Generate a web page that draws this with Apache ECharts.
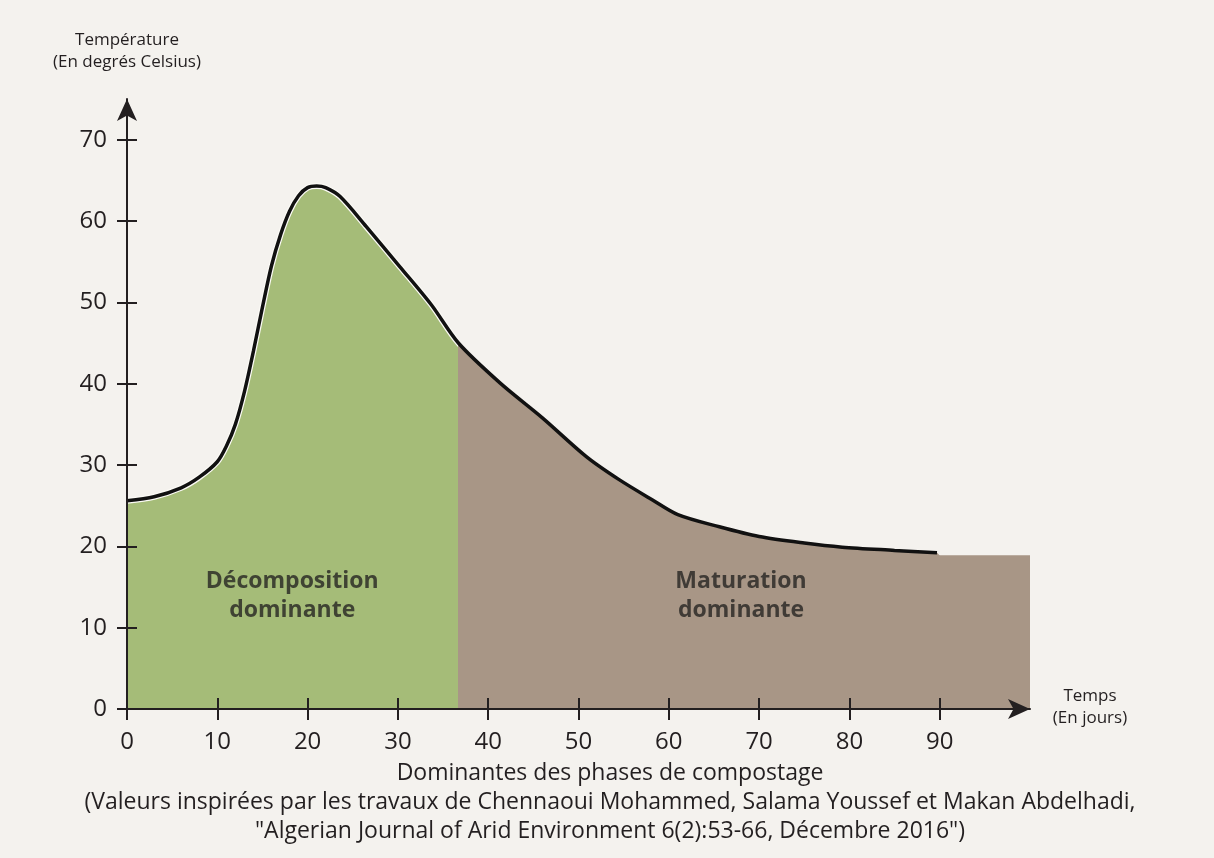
<!DOCTYPE html>
<html>
<head>
<meta charset="utf-8">
<script src="https://cdn.jsdelivr.net/npm/echarts@6/dist/echarts.min.js"></script>
<style>
  html, body { margin: 0; padding: 0; background: #f4f2ee; }
  #main { width: 1214px; height: 858px; }
</style>
</head>
<body>
<div id="main"></div>
<script>
// jours / température
var days = [0, 3, 6, 8, 10, 11, 12, 13, 14, 15, 16, 17, 18, 19, 20, 21, 22, 23.6, 26.5, 30.2, 33.7, 36.7, 41.3, 46, 50.9, 54.5, 58.2, 61, 65.6, 70, 75, 79.2, 85, 89.7];
var temps = [25.6, 26.1, 27.2, 28.5, 30.4, 32.3, 35, 39, 44, 49.4, 54.5, 58.3, 61.2, 63.1, 64.1, 64.3, 64.1, 63, 59.3, 54.4, 49.7, 45, 40.1, 35.8, 31, 28.2, 25.7, 23.9, 22.4, 21.2, 20.4, 19.9, 19.5, 19.2];
// prolongement de la zone maturation (sans courbe)
var tailDays = [90, 100];
var tailTemps = [18.9, 18.9];
var phaseSplit = 36.7;
var xTicks = [0, 10, 20, 30, 40, 50, 60, 70, 80, 90];
var yTicks = [0, 10, 20, 30, 40, 50, 60, 70];
var phaseLabels = [
  { name: 'Décomposition\ndominante', x: 18.3, y: 13.9 },
  { name: 'Maturation\ndominante', x: 68, y: 13.9 }
];

var GREEN = '#a5bc78';
var BROWN = '#a89686';
var INK = '#231f20';
var FONT = '"Open Sans", "Noto Sans", sans-serif';
var X_MAX = 100;

var curve = days.map(function (d, i) { return [d, temps[i]]; });
var area = curve.concat(tailDays.map(function (d, i) { return [d, tailTemps[i]]; }));
// liseré blanc sous la courbe, seulement sur la phase verte
var greenEdge = curve.filter(function (p) { return p[0] <= phaseSplit + 5; });

// la zone couvre 0..X_MAX, donc coupure nette à phaseSplit / X_MAX
var cut = phaseSplit / X_MAX;
var areaFill = new echarts.graphic.LinearGradient(0, 0, 1, 0, [
  { offset: 0, color: GREEN },
  { offset: cut, color: GREEN },
  { offset: cut, color: BROWN },
  { offset: 1, color: BROWN }
]);
var edgeCut = phaseSplit / (phaseSplit + 5);
var edgeColor = new echarts.graphic.LinearGradient(0, 0, 1, 0, [
  { offset: 0, color: '#fbfaf5' },
  { offset: edgeCut, color: '#fbfaf5' },
  { offset: edgeCut, color: 'rgba(0,0,0,0)' },
  { offset: 1, color: 'rgba(0,0,0,0)' }
]);

var chart = echarts.init(document.getElementById('main'));
var gridBox = { left: 127, right: 184, top: 99, bottom: 149 };

var option = {
  backgroundColor: '#f4f2ee',
  animation: false,
  grid: [
    Object.assign({}, gridBox),
    Object.assign({}, gridBox)
  ],
  xAxis: [
    {
      type: 'value', gridIndex: 0, min: 0, max: X_MAX, z: 10,
      splitLine: { show: false },
      axisLine: { lineStyle: { color: INK, width: 2 }, symbol: ['none', 'arrow'], symbolSize: [15, 22] },
      axisTick: { customValues: xTicks, length: 11, lineStyle: { color: INK, width: 2 } },
      axisLabel: { customValues: xTicks, margin: 21, fontSize: 24, color: INK, fontFamily: FONT }
    },
    {
      // petites graduations intérieures (croix)
      type: 'value', gridIndex: 1, min: 0, max: X_MAX, z: 10,
      splitLine: { show: false },
      axisLine: { show: false },
      axisTick: { customValues: xTicks, inside: true, length: 11, lineStyle: { color: INK, width: 2 } },
      axisLabel: { show: false }
    }
  ],
  yAxis: [
    {
      type: 'value', gridIndex: 0, min: 0, max: 75, z: 10,
      splitLine: { show: false },
      axisLine: { lineStyle: { color: INK, width: 2 }, symbol: ['none', 'arrow'], symbolSize: [15, 22] },
      axisTick: { customValues: yTicks, length: 10, lineStyle: { color: INK, width: 2 } },
      axisLabel: { customValues: yTicks, margin: 20, fontSize: 24, color: INK, fontFamily: FONT }
    },
    {
      type: 'value', gridIndex: 1, min: 0, max: 75, z: 10,
      splitLine: { show: false },
      axisLine: { show: false },
      axisTick: { customValues: yTicks, inside: true, length: 10, lineStyle: { color: INK, width: 2 } },
      axisLabel: { show: false }
    }
  ],
  series: [
    {
      type: 'line', xAxisIndex: 0, yAxisIndex: 0,
      data: area, smooth: 0.3, showSymbol: false, symbol: 'none',
      lineStyle: { width: 0 },
      areaStyle: { color: areaFill, opacity: 1 },
      z: 1
    },
    {
      type: 'line', xAxisIndex: 0, yAxisIndex: 0,
      data: greenEdge, smooth: 0.3, showSymbol: false, symbol: 'none',
      lineStyle: { color: edgeColor, width: 6 },
      silent: true,
      z: 2
    },
    {
      type: 'line', xAxisIndex: 0, yAxisIndex: 0,
      data: curve, smooth: 0.3, showSymbol: false, symbol: 'none',
      lineStyle: { color: '#111', width: 3.5 },
      z: 3
    },
    {
      // étiquettes des phases, placées en coordonnées de données
      type: 'scatter', xAxisIndex: 0, yAxisIndex: 0,
      data: phaseLabels.map(function (p) { return { name: p.name, value: [p.x, p.y] }; }),
      symbolSize: 0,
      silent: true,
      z: 4,
      label: {
        show: true, position: 'inside', formatter: '{b}',
        fontFamily: FONT, fontWeight: 'bold', fontSize: 23, lineHeight: 29,
        color: '#262422', align: 'center'
      }
    }
  ],
  graphic: [
    {
      type: 'text', x: 127, y: 29,
      style: {
        text: 'Température\n(En degrés Celsius)',
        font: '17px ' + FONT, fill: INK, align: 'center', lineHeight: 22
      }
    },
    {
      type: 'text', x: 1090, y: 685,
      style: {
        text: 'Temps\n(En jours)', align: 'center',
        font: '17px ' + FONT, fill: INK, lineHeight: 22
      }
    },
    {
      type: 'text', x: 610, y: 759,
      style: {
        text: 'Dominantes des phases de compostage\n(Valeurs inspirées par les travaux de Chennaoui Mohammed, Salama Youssef et Makan Abdelhadi,\n"Algerian Journal of Arid Environment 6(2):53-66, Décembre 2016")',
        align: 'center', font: '23px ' + FONT, fill: INK, lineHeight: 29
      }
    }
  ]
};
chart.setOption(option);
</script>
</body>
</html>
